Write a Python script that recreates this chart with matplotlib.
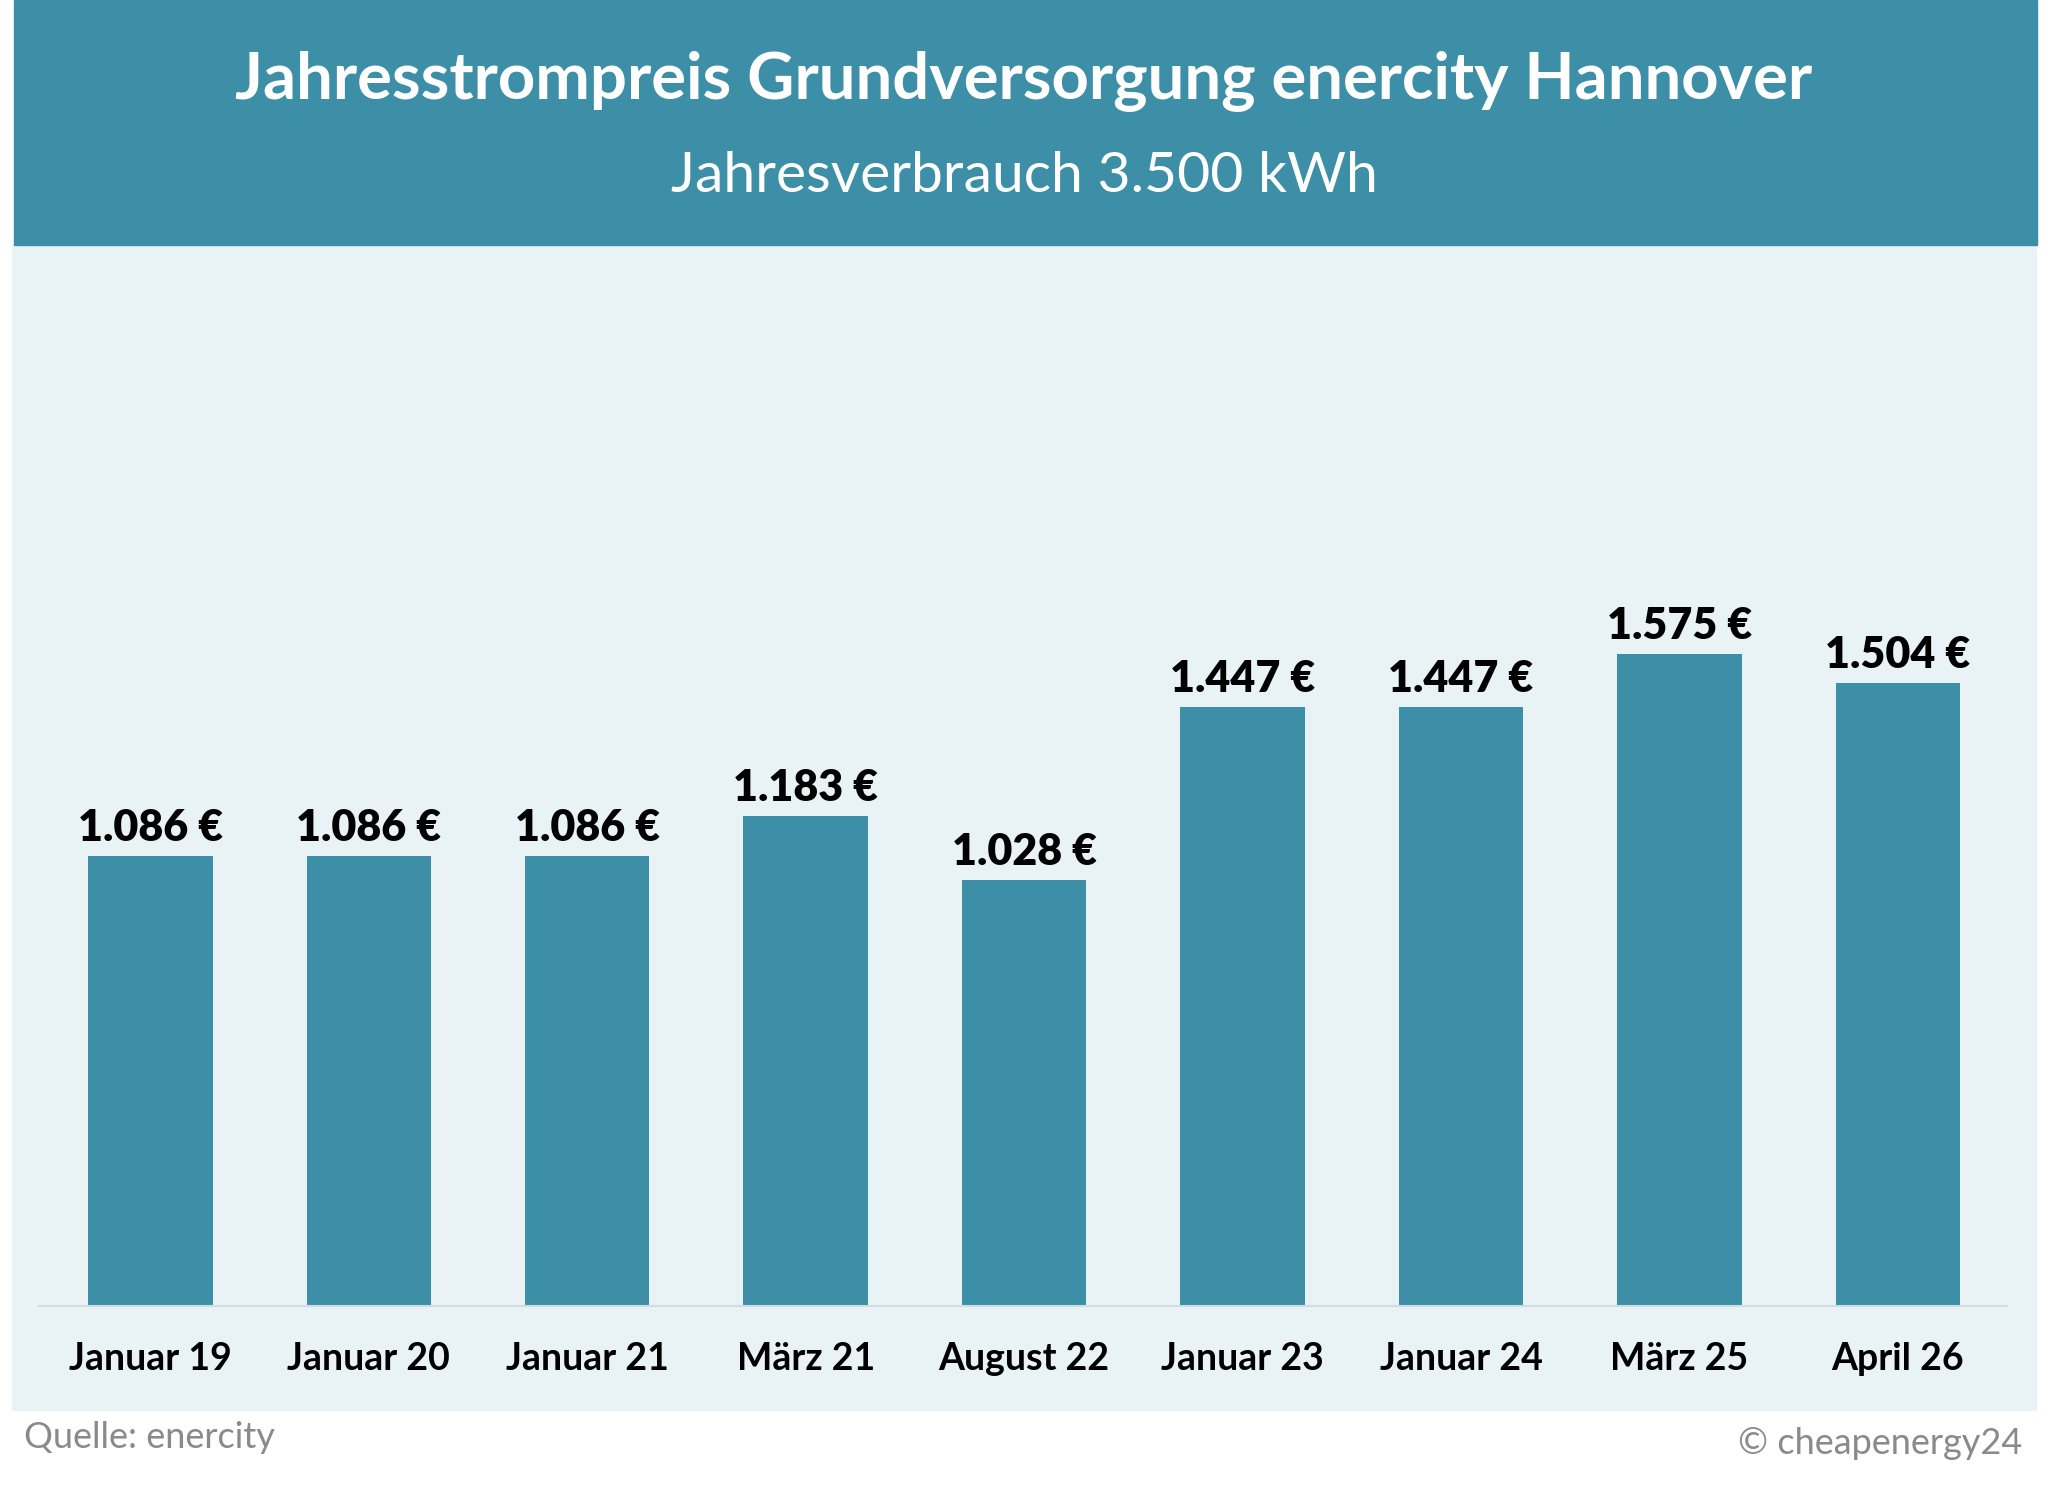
import numpy as np
import matplotlib as mpl
from matplotlib import pyplot as plt
from matplotlib.patches import Rectangle

# data
labels = ['Januar 19', 'Januar 20', 'Januar 21', 'März 21', 'August 22',
          'Januar 23', 'Januar 24', 'März 25', 'April 26']
prices = [1086, 1086, 1086, 1183, 1028, 1447, 1447, 1575, 1504]

title = 'Jahresstrompreis Grundversorgung enercity Hannover'
subtitle = 'Jahresverbrauch 3.500 kWh'
source = 'Quelle: enercity'
copyright_note = '© cheapenergy24'

bar_color = '#3d8fa8'
panel_color = '#e9f2f5'

plt.rcParams['font.family'] = ['Lato', 'DejaVu Sans']

W, H = 2048, 1490
dpi = 100
fig = plt.figure(figsize=(W / dpi, H / dpi), dpi=dpi)
fig.patch.set_facecolor('white')

# background panel and header band (figure pixel coords -> fractions)
def fx(px):
    return px / W

def fy(py):
    return 1 - py / H

fig.patches.append(Rectangle((fx(12), fy(1410)), fx(2036) - fx(12), fy(245) - fy(1410),
                             transform=fig.transFigure, color=panel_color, zorder=-2))
fig.patches.append(Rectangle((fx(14), fy(245)), fx(2037) - fx(14), 1 - fy(245),
                             transform=fig.transFigure, color=bar_color, zorder=-1))

fig.text(0.5, fy(82), title, ha='center', va='center', color='white',
         fontsize=47, fontweight='bold')
fig.text(0.5, fy(176), subtitle, ha='center', va='center', color='white',
         fontsize=41)

# chart axes
ax = fig.add_axes([fx(39), fy(1306), fx(2007) - fx(39), fy(245) - fy(1306)])
ax.set_facecolor('none')
x = np.arange(len(labels))
ax.bar(x, prices, width=0.57, color=bar_color, zorder=2)
ax.set_xlim(-0.51, 8.50)
ax.set_ylim(0, 2563)

for xi, v in zip(x, prices):
    txt = '{:,}'.format(v).replace(',', '.') + ' €'
    ax.annotate(txt, (xi, v), xytext=(0, 6), textcoords='offset points',
                ha='center', va='bottom', fontsize=31, fontweight='heavy',
                color='black')

ax.set_xticks(x)
ax.set_xticklabels(labels, fontsize=27, fontweight='bold')
ax.tick_params(axis='x', length=0, pad=26)
ax.set_yticks([])
for side in ['left', 'right', 'top']:
    ax.spines[side].set_visible(False)
ax.spines['bottom'].set_color('#d3dde1')
ax.spines['bottom'].set_linewidth(1.5)

fig.text(fx(24), fy(1437), source, ha='left', va='center', color='#8a8a8a',
         fontsize=26)
fig.text(fx(2022), fy(1444), copyright_note, ha='right', va='center',
         color='#8a8a8a', fontsize=26)

fig.savefig('out.png', dpi=dpi, facecolor=fig.get_facecolor())
